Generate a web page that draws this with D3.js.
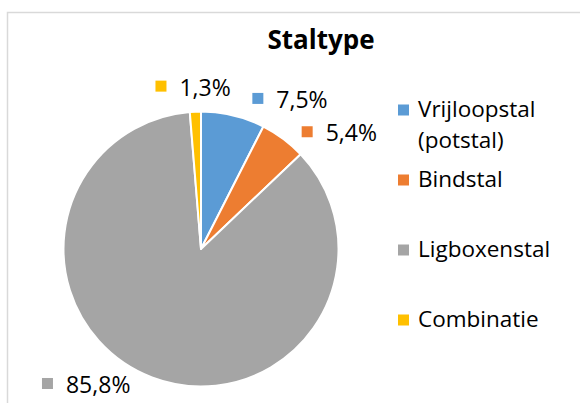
<!DOCTYPE html>
<html>
<head>
<meta charset="utf-8">
<script src="https://cdn.jsdelivr.net/npm/d3@7"></script>
<style>
  body { margin: 0; background: #fff; }
  text { font-family: "Open Sans", "Noto Sans", sans-serif; fill: #000; }
</style>
</head>
<body>
<div id="chart"></div>
<script>
// data
const categories = ["Vrijloopstal (potstal)", "Bindstal", "Ligboxenstal", "Combinatie"];
const values = [7.5, 5.4, 85.8, 1.3];
const colors = ["#5b9bd5", "#ed7d31", "#a5a5a5", "#ffc000"];

const width = 580, height = 403;
const cx = 201, cy = 249, radius = 137.5;

// Excel moved the data labels a bit from the plain outside-end spot
const labelRadius = 160;
const labelNudge = [[14, 5], [5, 11], [-102, -15], [-39, -3]];

const fmt = v => d3.format(".1f")(v).replace(".", ",") + "%";

const svg = d3.select("#chart").append("svg")
  .attr("width", width)
  .attr("height", height);

// chart area border
svg.append("rect")
  .attr("x", 7.5).attr("y", 12.5)
  .attr("width", 620).attr("height", 440)
  .attr("fill", "#fff")
  .attr("stroke", "#d9d9d9")
  .attr("stroke-width", 1.5);

svg.append("text")
  .attr("x", 321).attr("y", 48.5)
  .attr("text-anchor", "middle")
  .style("font-weight", "bold")
  .style("font-size", "26px")
  .text("Staltype");

const pie = d3.pie().sort(null).value(d => d.value);
const arcs = pie(categories.map((c, i) => ({ name: c, value: values[i], color: colors[i] })));

const arc = d3.arc().innerRadius(0).outerRadius(radius);
const labelArc = d3.arc().innerRadius(labelRadius).outerRadius(labelRadius);

const g = svg.append("g").attr("transform", "translate(" + cx + "," + cy + ")");

g.selectAll(".slice")
  .data(arcs)
  .enter().append("path")
  .attr("class", "slice")
  .attr("d", arc)
  .attr("fill", d => d.data.color)
  .attr("stroke", "#fff")
  .attr("stroke-width", 2)
  .attr("stroke-linejoin", "round");

// data labels: small colour square + value
const lab = g.selectAll(".lab")
  .data(arcs)
  .enter().append("g")
  .attr("class", "lab")
  .attr("transform", (d, i) => {
    const c = labelArc.centroid(d);
    return "translate(" + (c[0] + labelNudge[i][0]) + "," + (c[1] + labelNudge[i][1]) + ")";
  });

lab.append("rect")
  .attr("x", 0).attr("y", -5.5)
  .attr("width", 11).attr("height", 11)
  .attr("fill", d => d.data.color);

lab.append("text")
  .attr("x", 24).attr("y", 9.5)
  .style("font-size", "23px")
  .text(d => fmt(d.data.value));

// legend
const ly = d3.scalePoint().domain(categories).range([110, 320]);

const leg = svg.selectAll(".leg")
  .data(arcs)
  .enter().append("g")
  .attr("class", "leg")
  .attr("transform", d => "translate(398," + ly(d.data.name) + ")");

leg.append("rect")
  .attr("x", 0).attr("y", -5.5)
  .attr("width", 11).attr("height", 11)
  .attr("fill", d => d.data.color);

leg.append("text")
  .attr("x", 20).attr("y", 7)
  .style("font-size", "22.5px")
  .selectAll("tspan")
  .data(d => d.data.name.split(/ (?=\()/))
  .enter().append("tspan")
  .attr("x", 20)
  .attr("dy", (t, i) => i ? 31 : 0)
  .text(t => t);
</script>
</body>
</html>
